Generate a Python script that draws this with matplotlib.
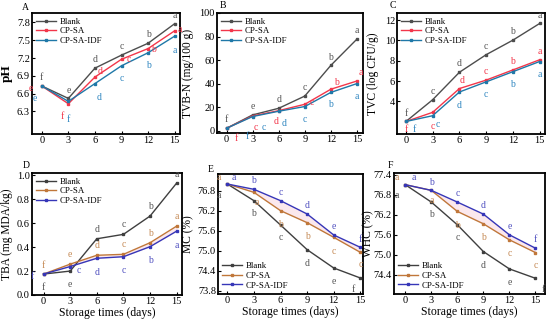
import matplotlib
matplotlib.use("Agg")
import matplotlib.pyplot as plt

plt.rcParams['font.family'] = ['Liberation Serif', 'DejaVu Serif']

days = [0, 3, 6, 9, 12, 15]
series_names = ["Blank", "CP-SA", "CP-SA-IDF"]

# A: pH
ph_blank = [6.73, 6.52, 7.03, 7.25, 7.45, 7.78]
ph_cpsa = [6.73, 6.43, 6.88, 7.18, 7.36, 7.66]
ph_idf = [6.73, 6.47, 6.77, 7.07, 7.29, 7.57]
ph_letters = [list("fedcba"), list("efdcba"), list("efdcba")]

# B: TVB-N
tvbn_blank = [2.0, 13.4, 19.0, 29.4, 55.5, 77.8]
tvbn_cpsa = [2.0, 12.5, 17.0, 22.4, 35.2, 42.2]
tvbn_idf = [2.0, 12.0, 16.5, 20.5, 32.5, 40.0]
tvbn_letters = [list("fedcba"), list("fcdcba"), list("fcdcba")]

# C: TVC
tvc_blank = [2.03, 4.17, 6.87, 8.6, 10.03, 11.67]
tvc_cpsa = [2.03, 2.93, 5.27, 6.1, 7.1, 8.1]
tvc_idf = [2.03, 2.6, 4.93, 5.93, 6.93, 7.93]
tvc_letters = [list("fcdcba"), list("fcdcba"), list("fcdcba")]

# D: TBA
tba_blank = [0.175, 0.20, 0.47, 0.507, 0.66, 0.936]
tba_cpsa = [0.175, 0.258, 0.332, 0.34, 0.437, 0.576]
tba_idf = [0.175, 0.238, 0.307, 0.32, 0.404, 0.534]
tba_letters = [list("fedcba"), list("fedcba"), list("fcdcba")]

# E: MC
mc_blank = [77.0, 76.5, 75.77, 75.03, 74.48, 74.18]
mc_cpsa = [77.0, 76.75, 76.2, 75.84, 75.4, 74.95]
mc_idf = [77.0, 76.84, 76.5, 76.1, 75.47, 75.1]
mc_letters = [list("abcdef"), list("aabbcc"), list("abcdef")]

# F: WHC
whc_blank = [77.1, 76.58, 75.9, 75.1, 74.58, 74.3]
whc_cpsa = [77.1, 76.93, 76.3, 75.93, 75.45, 75.07]
whc_idf = [77.1, 76.93, 76.58, 76.22, 75.6, 75.2]
whc_letters = [list("abcdef"), list("aabbcc"), list("abcdef")]

W, H = 550, 325
fig = plt.figure(figsize=(W / 100, H / 100), dpi=100)


def rect(x0, x1, y0, y1):
    return [x0 / W, 1 - y1 / H, (x1 - x0) / W, (y1 - y0) / H]


colsA = ['#4d4d4d', '#f2364a', '#1f78a8']
lcolsA = ['#555555', '#f2364a', '#2f86c0']
colsD = ['#3f3f3f', '#c0773a', '#3636b8']
lcolsD = ['#555555', '#c58a55', '#5050c0']

# label offsets (points) per series per point
off_A = [[(0, 6)] * 6,
         [(-8, -2), (-4, -9), (4, 4), (5, 0), (4, -1), (4, 1)],
         [(-5, -9), (0, -13), (3, -10), (0, -9), (0, -9), (0, -10)]]
off_B = [[(0, 6)] * 6,
         [(7, -7), (2, -8), (-2, -8), (5, 1), (4, 5), (3, 6)],
         [(15, -6), (8, -8), (4, -9), (0, -9), (0, -9), (0, -9)]]
off_C = [[(0, 6)] * 6,
         [(0, -6), (0, -10), (2, 6), (0, 6), (0, 6), (0, 6)],
         [(6, -6), (4, -6), (0, -10), (0, -9), (0, -9), (0, -9)]]
off_D = [[(0, -10), (0, -10), (0, 7), (0, 7), (0, 7), (0, 6)],
         [(0, 6), (0, 7), (0, 7), (0, 7), (0, 7), (0, 7)],
         [(-8, -2), (6, -3), (0, -10), (0, -10), (0, -10), (0, -10)]]
off_E = [[(-6, -8), (0, -9), (0, -9), (0, -10), (0, -10), (-5, -8)],
         [(-6, 5), (2, -7), (0, -10), (0, -10), (0, -10), (0, -9)],
         [(5, 5), (0, 6), (0, 6), (0, 6), (0, 6), (0, 6)]]
off_F = [[(-6, -8), (0, -9), (0, -9), (0, -10), (0, -10), (6, -8)],
         [(-6, 5), (0, -7), (0, -10), (0, -10), (0, -10), (0, -9)],
         [(6, 5), (0, 6), (0, 6), (0, 6), (0, 6), (0, 6)]]

panels = [
    dict(r=rect(32, 180, 13, 134), data=[ph_blank, ph_cpsa, ph_idf], letters=ph_letters,
         off=off_A, cols=colsA, lcols=lcolsA, ylim=(5.92, 7.96),
         yticks=[6.3, 6.6, 6.9, 7.2, 7.5, 7.8], yfmt="{:.1f}", xlim=(-1.1, 15.6),
         ylabel="pH", tag="A", tagpos=(22, 7), legloc="upper left", fill=False, xlabel=False,
         ylab_x=7, ylab_bold=True),
    dict(r=rect(217, 363, 13, 133), data=[tvbn_blank, tvbn_cpsa, tvbn_idf], letters=tvbn_letters,
         off=off_B, cols=colsA, lcols=lcolsA, ylim=(-2, 99),
         yticks=[0, 20, 40, 60, 80, 100], yfmt="{:d}", xlim=(-1.1, 15.7),
         ylabel="TVB-N (mg/100 g)", tag="B", tagpos=(220, 6), legloc="upper left", fill=False,
         xlabel=False, ylab_x=188, ylab_bold=False),
    dict(r=rect(397, 545, 13, 134), data=[tvc_blank, tvc_cpsa, tvc_idf], letters=tvc_letters,
         off=off_C, cols=colsA, lcols=lcolsA, ylim=(0.8, 12.7),
         yticks=[4, 6, 8, 10, 12], yfmt="{:d}", xlim=(-1.0, 15.6),
         ylabel="TVC (log CFU/g)", tag="C", tagpos=(390, 6), legloc="upper left", fill=False,
         xlabel=False, ylab_x=373, ylab_bold=False),
    dict(r=rect(32, 182, 173, 295), data=[tba_blank, tba_cpsa, tba_idf], letters=tba_letters,
         off=off_D, cols=colsD, lcols=lcolsD, ylim=(0.0, 1.02),
         yticks=[0.0, 0.2, 0.4, 0.6, 0.8, 1.0], yfmt="{:.1f}", xlim=(-1.3, 15.6),
         ylabel="TBA (mg MDA/kg)", tag="D", tagpos=(23, 166), legloc="upper left", fill=True,
         xlabel=True, ylab_x=7, ylab_bold=False),
    dict(r=rect(218, 363, 174, 294), data=[mc_blank, mc_cpsa, mc_idf], letters=mc_letters,
         off=off_E, cols=colsD, lcols=lcolsD, ylim=(73.7, 77.3),
         yticks=[73.8, 74.4, 75.0, 75.6, 76.2, 76.8], yfmt="{:.1f}", xlim=(-1.05, 15.3),
         ylabel="MC (%)", tag="E", tagpos=(208, 169), legloc="lower left", fill=True,
         xlabel=True, ylab_x=188, ylab_bold=False),
    dict(r=rect(394, 545, 173, 294), data=[whc_blank, whc_cpsa, whc_idf], letters=whc_letters,
         off=off_F, cols=colsD, lcols=lcolsD, ylim=(73.83, 77.45),
         yticks=[74.4, 75.0, 75.6, 76.2, 76.8, 77.4], yfmt="{:.1f}", xlim=(-1.3, 16.1),
         ylabel="WHC (%)", tag="F", tagpos=(388, 166), legloc="lower left", fill=True,
         xlabel=True, ylab_x=368, ylab_bold=False),
]

for p in panels:
    ax = fig.add_axes(p["r"])
    if p["fill"]:
        ax.fill_between(days, p["data"][1], p["data"][2], color='#f7c6d3', alpha=0.4, lw=0, zorder=1)
    for i, (ys, name) in enumerate(zip(p["data"], series_names)):
        ax.plot(days, ys, '-', color=p["cols"][i], lw=1.0, marker='s', ms=1.8, label=name, zorder=3)
        for j, (x, y) in enumerate(zip(days, ys)):
            dx, dy = p["off"][i][j]
            ax.annotate(p["letters"][i][j], (x, y), xytext=(dx, dy), textcoords='offset points',
                        ha='center', va='center', fontsize=7, color=p["lcols"][i], zorder=4)
    ax.set_xlim(*p["xlim"])
    ax.set_ylim(*p["ylim"])
    ax.set_xticks(days)
    ax.set_xticklabels([str(d) for d in days])
    ax.set_yticks(p["yticks"])
    ax.set_yticklabels([p["yfmt"].format(v) for v in p["yticks"]])
    ax.tick_params(direction='in', length=2, width=0.8, labelsize=7.5, pad=1.5)
    for s in ax.spines.values():
        s.set_linewidth(1.3)
    ax.legend(loc=p["legloc"], frameon=False, fontsize=6.4, handlelength=2.2,
              handletextpad=0.4, labelspacing=0.15, borderaxespad=0.3, borderpad=0.2)
    fig.text(p["ylab_x"] / W, p["r"][1] + p["r"][3] / 2, p["ylabel"], rotation=90,
             ha='center', va='center', fontsize=9.5 if p["ylab_bold"] else 8.3,
             fontweight='bold' if p["ylab_bold"] else 'normal')
    fig.text(p["tagpos"][0] / W, 1 - p["tagpos"][1] / H, p["tag"], ha='left', va='center', fontsize=7)
    if p["xlabel"]:
        ax.set_xlabel("Storage times (days)", fontsize=8.5, labelpad=1)

fig.savefig("out.png", dpi=100)
